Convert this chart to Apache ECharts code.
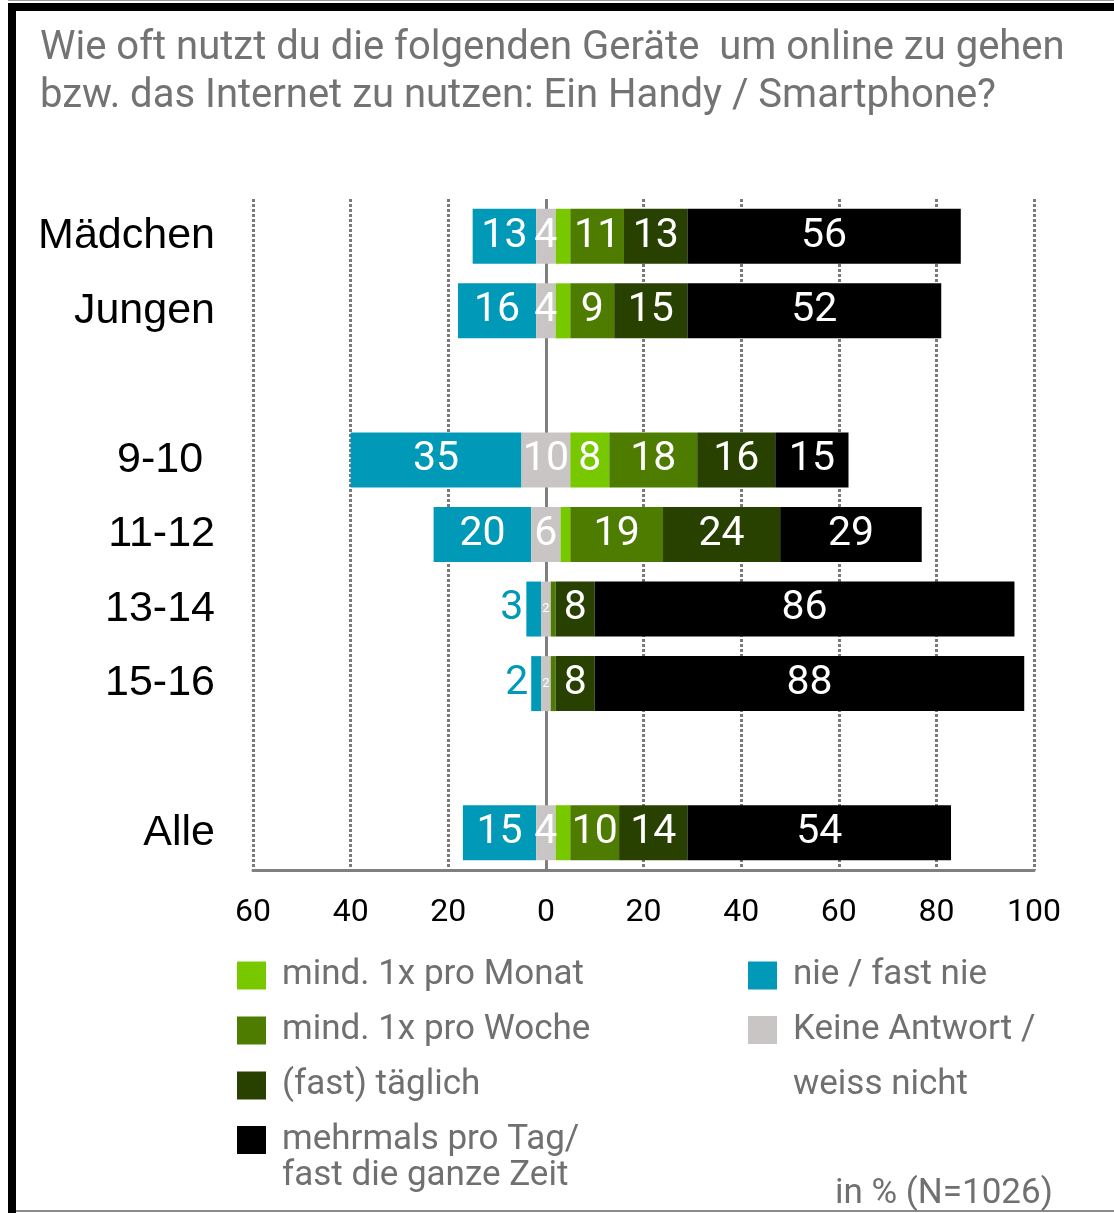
<!DOCTYPE html>
<html><head><meta charset="utf-8">
<script src="https://cdn.jsdelivr.net/npm/echarts@6/dist/echarts.min.js"></script>
<style>html,body{margin:0;padding:0;background:#fff}#c{width:1114px;height:1213px}</style>
</head><body><div id="c"></div>
<script>
const categories = ['Mädchen', 'Jungen', ' ', '9-10 ', '11-12', '13-14', '15-16', '  ', 'Alle'];
const nie      = [13, 16, null, 35, 20, 3, 2, null, 15];
const keine    = [4, 4, null, 10, 6, 2, 2, null, 4];
const monat    = [3, 3, null, 8, 2, 0, 0, null, 3];
const woche    = [11, 9, null, 18, 19, 1, 1, null, 10];
const taeglich = [13, 15, null, 16, 24, 8, 8, null, 14];
const mehrmals = [56, 52, null, 15, 29, 86, 88, null, 54];
const xMin = -60, xMax = 100, xStep = 20;

const N_NIE = 'nie / fast nie';
const N_KEINE = 'Keine Antwort /\nweiss nicht';
const N_MONAT = 'mind. 1x pro Monat';
const N_WOCHE = 'mind. 1x pro Woche';
const N_TAEG = '(fast) täglich';
const N_MEHR = 'mehrmals pro Tag/\nfast die ganze Zeit';

const C = {nie:'#0099b8', keine:'#c9c5c5', monat:'#78c800', woche:'#4d7c00', taeg:'#284000', mehr:'#000000'};

const labelBase = {show:true, position:'inside', color:'#ffffff', fontSize:41, fontFamily:'Roboto', formatter:'{c}'};

function mk(name, arr, color, labelFn, extra) {
  return Object.assign({
    name, type:'bar', stack:'s', stackStrategy:'all', barWidth:55,
    itemStyle:{color}, label:labelBase, emphasis:{disabled:true}, silent:true,
    data: arr.map(v => v == null ? null : (labelFn ? {value:v, label:labelFn(v)} : {value:v}))
  }, extra || {});
}

const offset = nie.map((v, i) => v == null ? null : -(v + keine[i] / 2));

const series = [
  {name:'_offset', type:'bar', stack:'s', stackStrategy:'all', barWidth:55, silent:true,
   itemStyle:{color:'rgba(0,0,0,0)'}, label:{show:false}, emphasis:{disabled:true}, data:offset},
  mk(N_NIE, nie, C.nie, v => v < 5 ? {position:'left', distance:3, color:C.nie} : {}),
  mk(N_KEINE, keine, C.keine, v => v < 3 ? {fontSize:13} : {}),
  mk(N_MONAT, monat, C.monat, v => v < 5 ? {show:false} : {}),
  mk(N_WOCHE, woche, C.woche, v => v < 5 ? {show:false} : {}),
  mk(N_TAEG, taeglich, C.taeg, null),
  mk(N_MEHR, mehrmals, C.mehr, null, {
    markLine:{silent:true, symbol:'none', label:{show:false}, z:2,
      lineStyle:{color:'#7f7f7f', width:3, type:'solid'}, data:[{xAxis:0}]}
  })
];

const legTxt = {fontSize:35, color:'#707070', fontFamily:'Roboto', padding:[0,0,0,11]};
// iconTop: top of the square; L: line height of wrapped names
function leg(name, left, iconTop, L) {
  const o = {
    data:[name], left, padding:0, icon:'rect', itemWidth:29, itemHeight:28, selectedMode:false,
    textStyle: Object.assign({}, legTxt, {lineHeight: L || 28})
  };
  if (L) {
    // an empty first line puts the first text line level with the square
    o.formatter = n => '\n' + n;
    o.top = iconTop + 17 - 1.5 * L;
  } else {
    o.top = iconTop;
  }
  return o;
}

const option = {
  backgroundColor:'#ffffff',
  animation:false,
  title:[
    {text:'Wie oft nutzt du die folgenden Geräte  um online zu gehen\nbzw. das Internet zu nutzen: Ein Handy / Smartphone?',
     left:40, top:25, padding:0,
     textStyle:{fontSize:40, fontWeight:'normal', color:'#737373', fontFamily:'Roboto', lineHeight:48}},
    {text:'in % (N=1026)', left:835, top:1177, padding:0,
     textStyle:{fontSize:35, fontWeight:'normal', color:'#707070', fontFamily:'Roboto', lineHeight:35}}
  ],
  legend:[
    leg(N_MONAT, 237, 958),
    leg(N_WOCHE, 237, 1013),
    leg(N_TAEG, 237, 1068),
    leg(N_MEHR, 237, 1123, 36),
    leg(N_NIE, 748, 958),
    leg(N_KEINE, 748, 1013, 55)
  ],
  grid:{left:253, right:80, top:199, bottom:343, containLabel:false},
  xAxis:{
    type:'value', min:xMin, max:xMax, interval:xStep,
    axisLine:{show:true, onZero:false, lineStyle:{color:'#808080', width:3}},
    axisTick:{show:false},
    axisLabel:{formatter:v => String(Math.abs(v)), fontSize:32, color:'#000', fontFamily:'Roboto', margin:27},
    splitLine:{show:true, lineStyle:{color:'#7a7a7a', width:3, type:[3,2]}}
  },
  yAxis:{
    type:'category', inverse:true, data:categories,
    axisLine:{show:false}, axisTick:{show:false}, splitLine:{show:false},
    axisLabel:{fontSize:43, color:'#000', fontFamily:'Liberation Sans', margin:38}
  },
  graphic:[
    {type:'rect', shape:{x:8, y:0, width:1106, height:1}, style:{fill:'#9a9a9a'}},
    {type:'rect', shape:{x:8, y:3, width:1106, height:8}, style:{fill:'#000'}},
    {type:'rect', shape:{x:8, y:3, width:8, height:1210}, style:{fill:'#000'}},
    {type:'rect', shape:{x:16, y:1210, width:1098, height:2}, style:{fill:'#8a8a8a'}}
  ],
  series
};
const chart = echarts.init(document.getElementById('c'), null, {renderer:'canvas'});
chart.setOption(option);
</script></body></html>
